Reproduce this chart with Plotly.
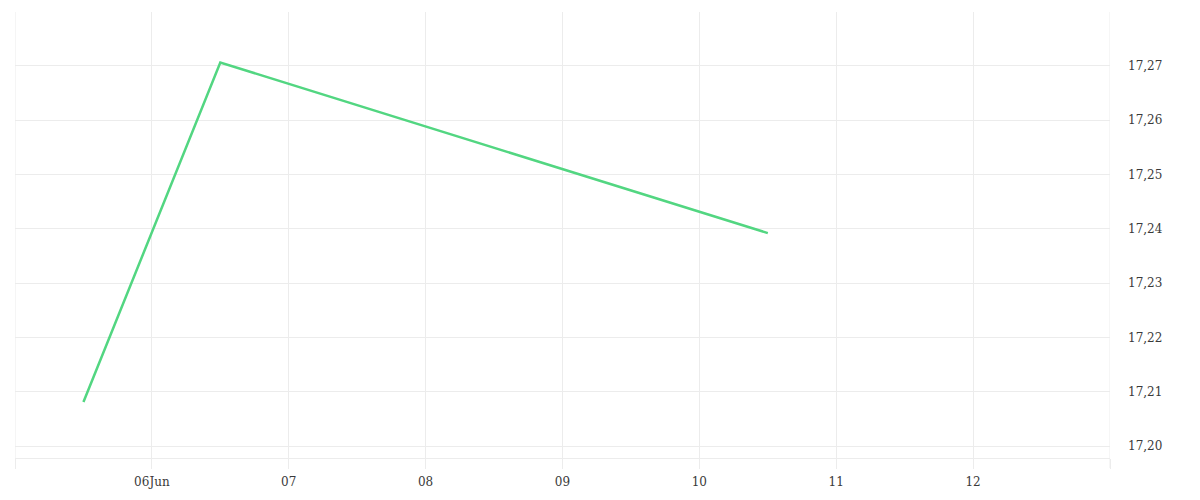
import plotly.graph_objects as go

dates = ["2024-06-05 12:00", "2024-06-06 12:00", "2024-06-10 12:00"]
values = [17.2081, 17.2706, 17.2392]

tick_dates = ["2024-06-05", "2024-06-06", "2024-06-07", "2024-06-08", "2024-06-09",
              "2024-06-10", "2024-06-11", "2024-06-12", "2024-06-13"]
tick_labels = ["", "06Jun", "07", "08", "09", "10", "11", "12", ""]
y_ticks = [17.20, 17.21, 17.22, 17.23, 17.24, 17.25, 17.26, 17.27]

grid = "#ececec"
fig = go.Figure()
fig.add_trace(go.Scatter(x=dates, y=values, mode="lines",
                         line=dict(color="#52d681", width=2.5)))
for d in (tick_dates[0], tick_dates[-1]):
    fig.add_shape(type="line", xref="x", yref="paper", x0=d, x1=d, y0=-0.0224, y1=1,
                  line=dict(color=grid, width=1), layer="below")
fig.update_layout(
    width=1200, height=500,
    margin=dict(l=7, r=98, t=4, b=50),
    paper_bgcolor="white", plot_bgcolor="white",
    separators=",.",
    showlegend=False,
    font=dict(family="DejaVu Serif", size=12, color="#3a3a3a"),
    xaxis=dict(range=["2024-06-05", "2024-06-13"], tickvals=tick_dates, ticktext=tick_labels,
               showgrid=True, gridcolor=grid, ticks="outside", ticklen=10, tickcolor=grid,
               showline=True, linecolor=grid, zeroline=False, ticklabelstandoff=3,
               automargin=False),
    yaxis=dict(side="right", range=[17.1978, 17.2799], tickvals=y_ticks, tickformat=".2f",
               showgrid=True, gridcolor=grid, zeroline=False, showline=False,
               ticklabelstandoff=17, automargin=False),
)
fig.write_html("out.html")
